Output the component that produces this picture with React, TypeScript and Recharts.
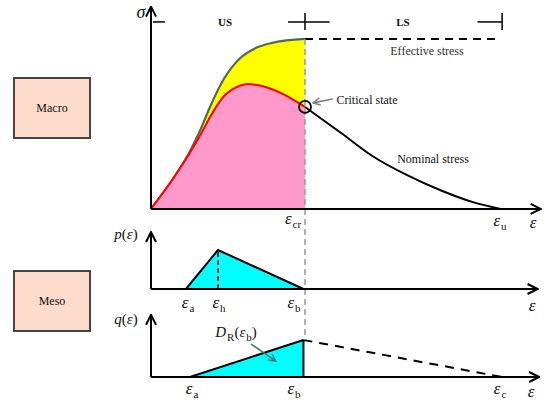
import React from 'react';
import { ComposedChart, Area, Line, XAxis, YAxis, ReferenceLine, ReferenceDot } from 'recharts';

// strain is normalised so that eps_cr = 1
const EPS_A_P = 0.227;
const EPS_H = 0.435;
const EPS_A_Q = 0.253;
const EPS_B = 0.99;
const EPS_CR = 1;
const EPS_U = 2.27;
const EPS_C = 2.28;

// macro: effective stress (unloaded part) and nominal stress, sigma normalised to the plateau
const effectiveStress = [
  { e: 0, s: 0 },
  { e: 0.145, s: 0.18 },
  { e: 0.253, s: 0.34 },
  { e: 0.318, s: 0.46 },
  { e: 0.383, s: 0.6 },
  { e: 0.47, s: 0.76 },
  { e: 0.578, s: 0.886 },
  { e: 0.686, s: 0.949 },
  { e: 0.794, s: 0.978 },
  { e: 1.0, s: 1.0 },
];

const nominalStressUS = [
  { e: 0, s: 0 },
  { e: 0.145, s: 0.18 },
  { e: 0.253, s: 0.33 },
  { e: 0.318, s: 0.43 },
  { e: 0.383, s: 0.54 },
  { e: 0.47, s: 0.66 },
  { e: 0.578, s: 0.725 },
  { e: 0.625, s: 0.735 },
  { e: 0.75, s: 0.716 },
  { e: 0.88, s: 0.665 },
  { e: 1.0, s: 0.6 },
];

const nominalStressLS = [
  { e: 1.0, s: 0.6 },
  { e: 1.23, s: 0.45 },
  { e: 1.44, s: 0.31 },
  { e: 1.66, s: 0.2 },
  { e: 1.88, s: 0.11 },
  { e: 2.09, s: 0.04 },
  { e: EPS_U, s: 0 },
];

const effectivePlateau = [
  { e: EPS_CR, s: 1 },
  { e: EPS_U, s: 1 },
];

// meso: density p(eps) and cumulative q(eps)
const pDensity = [
  { e: EPS_A_P, p: 0 },
  { e: EPS_H, p: 1 },
  { e: EPS_B, p: 0 },
];

const qDamaged = [
  { e: EPS_A_Q, q: 0 },
  { e: EPS_B, q: 1 },
];

const qTail = [
  { e: EPS_B, q: 1 },
  { e: EPS_C, q: 0 },
];

// axis windows (chosen so the three panels stack in one 550x405 plot)
const X_DOMAIN: [number, number] = [-0.9805, 2.5909];
const S_DOMAIN: [number, number] = [-1.153, 1.229];
const P_DOMAIN: [number, number] = [-2.974, 7.41];
const Q_DOMAIN: [number, number] = [-0.757, 10.189];

const Lbl = ({ x, y, size = 12, style, children }: any) => (
  <div
    style={{
      position: 'absolute',
      left: x,
      top: y,
      transform: 'translate(-50%, -50%)',
      fontSize: size,
      lineHeight: 1,
      whiteSpace: 'nowrap',
      ...style,
    }}
  >
    {children}
  </div>
);

const Sub = ({ children }: any) => (
  <span style={{ fontSize: 11, fontStyle: 'normal', position: 'relative', top: 4, marginLeft: 1 }}>{children}</span>
);

const Eps = ({ sub }: { sub?: string }) => (
  <span style={{ fontSize: 17 }}>
    <i>ε</i>
    {sub && <Sub>{sub}</Sub>}
  </span>
);

const Box = ({ top, text }: { top: number; text: string }) => (
  <div
    style={{
      position: 'absolute',
      left: 13,
      top,
      width: 74,
      height: 58,
      background: '#fddccb',
      border: '2px solid #444',
      display: 'flex',
      alignItems: 'center',
      justifyContent: 'center',
      fontSize: 12,
    }}
  >
    {text}
  </div>
);

const axisLine = { stroke: '#000', strokeWidth: 2, markerEnd: 'url(#arrowHead)' };
const bracket = { stroke: '#000', strokeWidth: 1.5 };
const noDots = { dot: false, activeDot: false, isAnimationActive: false };

export default function App() {
  return (
    <div
      style={{
        position: 'fixed',
        left: 0,
        top: 0,
        width: 550,
        height: 405,
        background: '#fff',
        fontFamily: '"Liberation Serif", "DejaVu Serif", serif',
        color: '#111',
        overflow: 'hidden',
      }}
    >
      <ComposedChart width={550} height={405} margin={{ top: 0, right: 0, bottom: 0, left: 0 }} style={{ position: 'absolute', left: 0, top: 0 }}>
        <defs>
          <marker id="arrowHead" viewBox="0 0 12 12" refX="11" refY="6" markerWidth="12" markerHeight="12" markerUnits="userSpaceOnUse" orient="auto">
            <path d="M1,1 L11,6 L1,11" fill="none" stroke="#000" strokeWidth="2" />
          </marker>
          <marker id="grayHead" viewBox="0 0 10 10" refX="9" refY="5" markerWidth="9" markerHeight="9" markerUnits="userSpaceOnUse" orient="auto">
            <path d="M1,1 L9,5 L1,9" fill="none" stroke="#808080" strokeWidth="1.6" />
          </marker>
          <marker id="tealHead" viewBox="0 0 10 10" refX="9" refY="5" markerWidth="9" markerHeight="9" markerUnits="userSpaceOnUse" orient="auto">
            <path d="M1,1 L9,5 L1,9" fill="none" stroke="#3f7878" strokeWidth="1.6" />
          </marker>
        </defs>
        <XAxis type="number" dataKey="e" domain={X_DOMAIN} allowDataOverflow hide />
        <YAxis yAxisId="s" type="number" domain={S_DOMAIN} allowDataOverflow hide />
        <YAxis yAxisId="p" type="number" domain={P_DOMAIN} allowDataOverflow hide />
        <YAxis yAxisId="q" type="number" domain={Q_DOMAIN} allowDataOverflow hide />

        {/* macro panel */}
        <Area yAxisId="s" data={effectiveStress} dataKey="s" type="monotone" fill="#ffff00" fillOpacity={1} stroke="#4f6b58" strokeWidth={2.2} {...noDots} />
        <Area yAxisId="s" data={nominalStressUS} dataKey="s" type="monotone" fill="#ff99cc" fillOpacity={1} stroke="#ff0000" strokeWidth={2} {...noDots} />
        <Line yAxisId="s" data={nominalStressLS} dataKey="s" type="monotone" stroke="#000" strokeWidth={2} {...noDots} />
        <Line yAxisId="s" data={effectivePlateau} dataKey="s" type="linear" stroke="#000" strokeWidth={2} strokeDasharray="8 6" {...noDots} />

        {/* meso panels */}
        <Area yAxisId="p" data={pDensity} dataKey="p" type="linear" fill="#00ffff" fillOpacity={1} stroke="#000" strokeWidth={2} {...noDots} />
        <Area yAxisId="q" data={qDamaged} dataKey="q" type="linear" fill="#00ffff" fillOpacity={1} stroke="#000" strokeWidth={2} {...noDots} />
        <Line yAxisId="q" data={qTail} dataKey="q" type="linear" stroke="#000" strokeWidth={2} strokeDasharray="9 7" {...noDots} />
        <ReferenceLine yAxisId="p" segment={[{ x: EPS_H, y: 0 }, { x: EPS_H, y: 1 }]} stroke="#000" strokeWidth={1.5} strokeDasharray="5 3" />
        <ReferenceLine yAxisId="q" segment={[{ x: EPS_B, y: 0 }, { x: EPS_B, y: 1 }]} stroke="#000" strokeWidth={2} />

        {/* critical strain through all panels */}
        <ReferenceLine yAxisId="s" segment={[{ x: EPS_CR, y: 1 }, { x: EPS_CR, y: -0.77 }]} stroke="#9a9a9a" strokeWidth={1.5} strokeDasharray="6 4" />

        {/* axes */}
        <ReferenceLine yAxisId="s" segment={[{ x: 0, y: 0 }, { x: 0, y: 1.19 }]} {...axisLine} />
        <ReferenceLine yAxisId="s" segment={[{ x: 0, y: 0 }, { x: 2.53, y: 0 }]} {...axisLine} />
        <ReferenceLine yAxisId="p" segment={[{ x: 0, y: 0 }, { x: 0, y: 1.46 }]} {...axisLine} />
        <ReferenceLine yAxisId="p" segment={[{ x: 0, y: 0 }, { x: 2.51, y: 0 }]} {...axisLine} />
        <ReferenceLine yAxisId="q" segment={[{ x: 0, y: 0 }, { x: 0, y: 1.68 }]} {...axisLine} />
        <ReferenceLine yAxisId="q" segment={[{ x: 0, y: 0 }, { x: 2.52, y: 0 }]} {...axisLine} />

        {/* US / LS brackets */}
        <ReferenceLine yAxisId="s" segment={[{ x: 0.013, y: 1.1 }, { x: 0.09, y: 1.1 }]} {...bracket} />
        <ReferenceLine yAxisId="s" segment={[{ x: 0.89, y: 1.1 }, { x: 1.16, y: 1.1 }]} {...bracket} />
        <ReferenceLine yAxisId="s" segment={[{ x: EPS_CR, y: 1.053 }, { x: EPS_CR, y: 1.153 }]} {...bracket} />
        <ReferenceLine yAxisId="s" segment={[{ x: 2.12, y: 1.1 }, { x: 2.28, y: 1.1 }]} {...bracket} />
        <ReferenceLine yAxisId="s" segment={[{ x: 2.28, y: 1.053 }, { x: 2.28, y: 1.153 }]} {...bracket} />

        {/* annotations */}
        <ReferenceDot yAxisId="s" x={EPS_CR} y={0.6} r={6} fill="none" stroke="#000" strokeWidth={1.8} />
        <ReferenceLine yAxisId="s" segment={[{ x: 1.18, y: 0.647 }, { x: 1.052, y: 0.624 }]} stroke="#808080" strokeWidth={1.6} markerEnd="url(#grayHead)" />
        <ReferenceLine yAxisId="q" segment={[{ x: 0.65, y: 0.89 }, { x: 0.81, y: 0.43 }]} stroke="#3f7878" strokeWidth={1.6} markerEnd="url(#tealHead)" />
      </ComposedChart>

      <Box top={77} text="Macro" />
      <Box top={270} text="Meso" />

      <Lbl x={141} y={12} size={18}><i>σ</i></Lbl>
      <Lbl x={225} y={22} size={11} style={{ fontWeight: 'bold' }}>US</Lbl>
      <Lbl x={403} y={22} size={11} style={{ fontWeight: 'bold' }}>LS</Lbl>
      <Lbl x={427} y={51} style={{ color: '#333' }}>Effective stress</Lbl>
      <Lbl x={367} y={100}>Critical state</Lbl>
      <Lbl x={433} y={159}>Nominal stress</Lbl>

      <Lbl x={293} y={218}><Eps sub="cr" /></Lbl>
      <Lbl x={500} y={220}><Eps sub="u" /></Lbl>
      <Lbl x={533} y={222}><Eps /></Lbl>

      <Lbl x={126} y={234} size={15}><i>p</i>(<i>ε</i>)</Lbl>
      <Lbl x={188} y={302}><Eps sub="a" /></Lbl>
      <Lbl x={219} y={302}><Eps sub="h" /></Lbl>
      <Lbl x={294} y={302}><Eps sub="b" /></Lbl>
      <Lbl x={532} y={305}><Eps /></Lbl>

      <Lbl x={126} y={319} size={15}><i>q</i>(<i>ε</i>)</Lbl>
      <Lbl x={236} y={332} size={15}><i>D</i><Sub>R</Sub>(<i>ε</i><Sub>b</Sub>)</Lbl>
      <Lbl x={192} y={388}><Eps sub="a" /></Lbl>
      <Lbl x={294} y={388}><Eps sub="b" /></Lbl>
      <Lbl x={500} y={388}><Eps sub="c" /></Lbl>
      <Lbl x={531} y={391}><Eps /></Lbl>
    </div>
  );
}
